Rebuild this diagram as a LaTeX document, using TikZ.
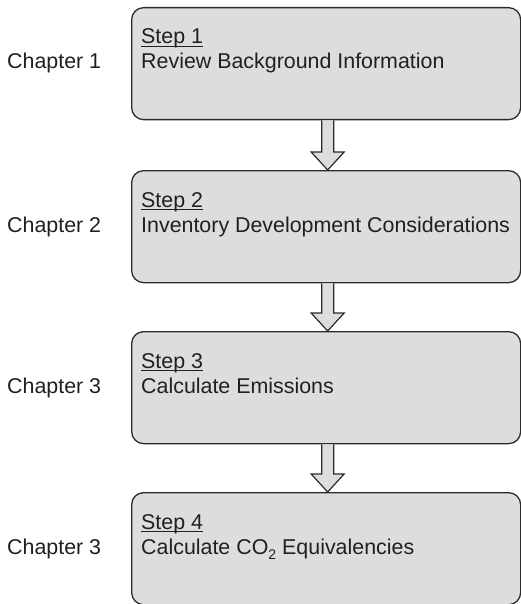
\documentclass[tikz,border=0pt]{standalone}
\usepackage{fontspec}
\setmainfont{Liberation Sans}
\usetikzlibrary{calc}

% Underline that sits close to the baseline
\newcommand{\stepline}[1]{\setbox0\hbox{#1}\rlap{\rule[-3pt]{\wd0}{1.2pt}}\box0}
% Lowered small subscript
\newcommand{\lowsub}[1]{\raisebox{-5pt}{\fontsize{14}{14}\selectfont #1}}

\begin{document}
\begin{tikzpicture}[x=1pt, y=-1pt, font=\fontsize{21.4}{25}\selectfont]
    % Define colours
    \definecolor{borderColour}{HTML}{2B2B2B}
    \definecolor{fillColour}{HTML}{DCDDDF}
    \definecolor{textColour}{HTML}{231F20}

    % Define styles
    \tikzset{
      stepbox/.style={draw=borderColour, fill=fillColour, line width=1.3pt,
        rounded corners=12pt, minimum width=389pt, minimum height=112pt,
        inner sep=0pt, anchor=north west},
      steplabel/.style={anchor=base west, inner sep=0pt, text=textColour},
      blockarrow/.style={draw=borderColour, fill=fillColour, line width=1.2pt}
    }

    % Fix the page size
    \useasboundingbox (0,0) rectangle (520,604);

    % Draw the boxes
    \foreach \i/\top in {1/7, 2/170, 3/331, 4/492}
        \node[stepbox] (box\i) at (131,\top) {};

    % Label each box and its chapter
    \foreach \i/\desc/\chap in {1/Review Background Information/Chapter 1,
        2/Inventory Development Considerations/Chapter 2,
        3/Calculate Emissions/Chapter 3,
        4/{Calculate CO\lowsub{2} Equivalencies}/Chapter 3} {
        \node[steplabel] (step\i) at ($(box\i.north west)+(10,37)$) {\stepline{Step \i}};
        \node[steplabel] (desc\i) at ($(box\i.north west)+(10,62)$) {\desc};
        \node[steplabel] (chap\i) at (7,0 |- desc\i.base) {\chap};
    }

    % Draw the block arrows between the boxes
    \foreach \a/\b in {1/2, 2/3, 3/4}
        \draw[blockarrow] ($(box\a.south)+(-4.5,0)$) -- ($(box\b.north)+(-4.5,-18)$)
            -- ($(box\b.north)+(-15,-18)$) -- ($(box\b.north)+(1.5,0)$)
            -- ($(box\b.north)+(18,-18)$) -- ($(box\b.north)+(7.5,-18)$)
            -- ($(box\a.south)+(7.5,0)$);

\end{tikzpicture}
\end{document}
